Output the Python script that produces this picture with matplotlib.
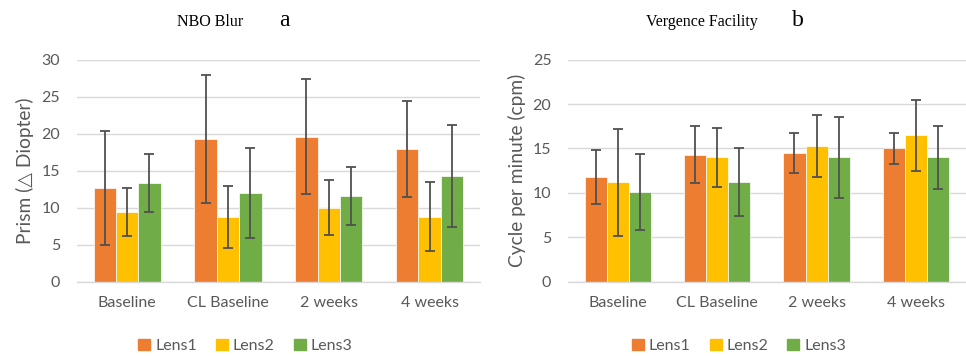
import numpy as np
import matplotlib
matplotlib.use('Agg')
import matplotlib.pyplot as plt
from matplotlib.patches import Patch

# data (mean and SD)
categories = ['Baseline', 'CL Baseline', '2 weeks', '4 weeks']
lenses = ['Lens1', 'Lens2', 'Lens3']

nbo_mean = {
    'Lens1': [12.6, 19.3, 19.6, 17.9],
    'Lens2': [9.4, 8.8, 10.0, 8.8],
    'Lens3': [13.3, 12.0, 11.6, 14.3],
}
nbo_sd = {
    'Lens1': [7.7, 8.6, 7.8, 6.5],
    'Lens2': [3.2, 4.2, 3.7, 4.7],
    'Lens3': [3.9, 6.1, 3.9, 6.9],
}

vf_mean = {
    'Lens1': [11.8, 14.3, 14.5, 15.0],
    'Lens2': [11.2, 14.0, 15.3, 16.5],
    'Lens3': [10.1, 11.2, 14.0, 14.0],
}
vf_sd = {
    'Lens1': [3.0, 3.2, 2.25, 1.8],
    'Lens2': [6.0, 3.35, 3.5, 4.0],
    'Lens3': [4.3, 3.85, 4.6, 3.55],
}

colors = {'Lens1': '#ED7D31', 'Lens2': '#FFC000', 'Lens3': '#70AD47'}
gray = '#595959'

plt.rcParams['font.family'] = ['Lato', 'DejaVu Sans']

W, H = 966, 356
fig = plt.figure(figsize=(W / 100, H / 100), dpi=100)


def panel(rect, means, sds, ymax, ylabel, title, letter, title_x, letter_x, legend_x):
    ax = fig.add_axes([rect[0] / W, 1 - rect[3] / H, (rect[2] - rect[0]) / W, (rect[3] - rect[1]) / H])
    x = np.arange(len(categories))
    bw = 0.222
    for i, lens in enumerate(lenses):
        ax.bar(x + (i - 1) * bw, means[lens], bw, color=colors[lens],
               edgecolor='white', linewidth=0.5, zorder=2,
               yerr=sds[lens], capsize=3.5,
               error_kw=dict(ecolor='#505050', elinewidth=1.3, capthick=1.3, zorder=3))
    ax.set_xlim(-0.5, len(categories) - 0.5)
    ax.set_ylim(0, ymax)
    ax.set_yticks(np.arange(0, ymax + 1, 5))
    ax.set_xticks(x)
    ax.set_xticklabels(categories)
    ax.grid(axis='y', color='#D9D9D9', linewidth=1, zorder=0)
    ax.set_axisbelow(True)
    for s in ['top', 'right', 'left']:
        ax.spines[s].set_visible(False)
    ax.spines['bottom'].set_color('#D9D9D9')
    ax.spines['bottom'].set_linewidth(1)
    ax.tick_params(axis='both', length=0, colors=gray, labelsize=11.5)
    ax.tick_params(axis='y', pad=12)
    ax.tick_params(axis='x', pad=10)
    ax.set_ylabel(ylabel, color=gray, fontsize=13.8, labelpad=5)
    fig.text(title_x / W, 1 - 22 / H, title, ha='center', va='center',
             family='Liberation Serif', fontsize=11.5, color='black')
    fig.text(letter_x / W, 1 - 21 / H, letter, ha='center', va='center',
             family='Liberation Serif', fontsize=17, color='black')
    handles = [Patch(color=colors[l], label=l) for l in lenses]
    fig.legend(handles=handles, loc='center', bbox_to_anchor=(legend_x / W, 1 - 346 / H),
               ncol=3, frameon=False, fontsize=11.5, labelcolor=gray,
               handlelength=0.75, handleheight=0.75, handletextpad=0.3, columnspacing=1.2)
    return ax


panel((76.7, 59.7, 480, 281.7), nbo_mean, nbo_sd, 30, 'Prism (\u25b3 Diopter)',
      'NBO Blur', 'a', 209.7, 284.7, 245.5)
panel((568, 59.7, 965.7, 281.7), vf_mean, vf_sd, 25, 'Cycle per minute (cpm)',
      'Vergence Facility', 'b', 702, 798, 739)

fig.savefig('out.png', dpi=100)
